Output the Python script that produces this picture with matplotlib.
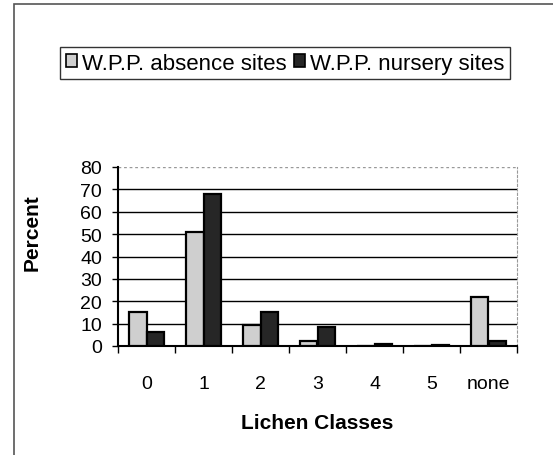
import numpy as np
import matplotlib.pyplot as plt
from matplotlib.patches import Rectangle, Patch

# Lichen class distribution at W.P.P. sites
classes = ["0", "1", "2", "3", "4", "5", "none"]
absence_sites = [15.1, 50.9, 9.2, 2.4, 0.0, 0.0, 21.7]
nursery_sites = [6.4, 68.0, 15.4, 8.3, 0.7, 0.6, 2.1]
y_ticks = [0, 10, 20, 30, 40, 50, 60, 70, 80]

plt.rcParams["font.family"] = ["Liberation Sans", "DejaVu Sans"]

fig = plt.figure(figsize=(5.53, 4.56), dpi=100)

# outer chart frame (only top and left edges inside the picture)
fig.patches.append(Rectangle((14 / 553, -0.1), 1.2, 1 - 5 / 456 + 0.1,
                             transform=fig.transFigure, fill=False,
                             edgecolor="#555555", linewidth=1.2))

ax = fig.add_axes([118 / 553, 1 - 347 / 456, 399 / 553, 179 / 456])

x = np.arange(len(classes))
width = 0.3
ax.bar(x - width / 2, absence_sites, width, color="#cfcfcf",
       edgecolor="black", linewidth=1.6, zorder=3)
ax.bar(x + width / 2, nursery_sites, width, color="#262626",
       edgecolor="black", linewidth=1.6, zorder=3)

ax.set_xlim(-0.5, len(classes) - 0.5)
ax.set_ylim(0, 80)
ax.set_yticks(y_ticks)
ax.set_xticks(x)
ax.set_xticklabels(classes)
ax.set_xticks(np.arange(len(classes) + 1) - 0.5, minor=True)
ax.tick_params(axis="x", which="major", length=0, pad=21, labelsize=14)
ax.tick_params(axis="x", which="minor", length=5, width=1, direction="out")
ax.tick_params(axis="y", length=4.5, width=1, labelsize=14, pad=7)

for v in y_ticks[1:-1]:
    ax.axhline(v, color="black", linewidth=1.0, zorder=1)
ax.axhline(80, color="#999999", linewidth=1.0, linestyle=(0, (2, 2)), zorder=1)

ax.spines["top"].set_visible(False)
ax.spines["right"].set_color("#999999")
ax.spines["right"].set_linestyle((0, (2, 2)))
ax.spines["left"].set_linewidth(1.5)
ax.spines["bottom"].set_linewidth(1.5)

ax.set_ylabel("Percent", fontsize=15, fontweight="bold", va="center")
ax.yaxis.set_label_coords(-0.2155, 0.64)
ax.set_xlabel("Lichen Classes", fontsize=15, fontweight="bold", va="center")
ax.xaxis.set_label_coords(0.5, -0.43)

handles = [
    Patch(facecolor="#cfcfcf", edgecolor="black", linewidth=1.2),
    Patch(facecolor="#262626", edgecolor="black", linewidth=1.2),
]
fig.legend(handles, ["W.P.P. absence sites", "W.P.P. nursery sites"],
           loc="upper left", bbox_to_anchor=(60 / 553, 1 - 48 / 456),
           ncol=2, fontsize=16, frameon=True, fancybox=False,
           edgecolor="black", handlelength=0.5, handleheight=0.5,
           handletextpad=0.25, columnspacing=0.3, borderpad=0.25,
           borderaxespad=0)

fig.savefig("out.png", dpi=100)
